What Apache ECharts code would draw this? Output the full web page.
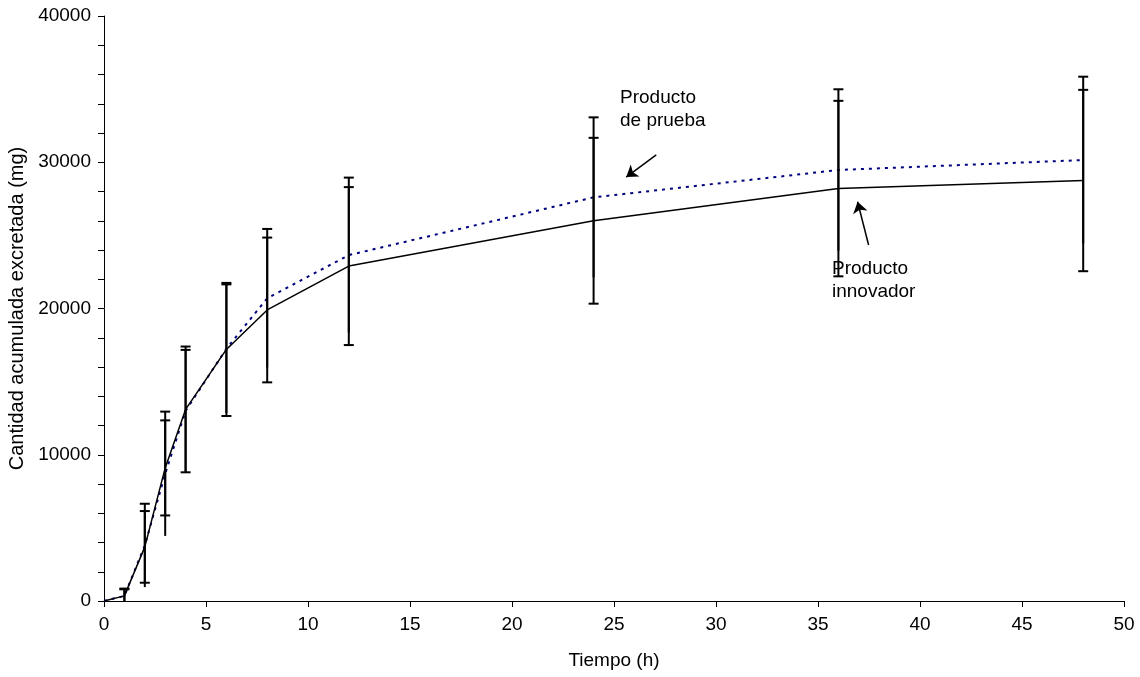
<!DOCTYPE html>
<html>
<head>
<meta charset="utf-8">
<script src="https://cdn.jsdelivr.net/npm/echarts@6/dist/echarts.min.js"></script>
<style>
  html, body { margin: 0; padding: 0; background: #fff; }
  #main { width: 1140px; height: 677px; }
</style>
</head>
<body>
<div id="main"></div>
<script>
// tiempo de muestreo (h)
const tiempo = [0, 1, 2, 3, 4, 6, 8, 12, 24, 36, 48];
// producto innovador: media y desviación estándar (mg)
const innovador = [0, 350, 3700, 9100, 13100, 17200, 19900, 22900, 26000, 28200, 28750];
const innovadorDE = [0, 450, 2450, 3250, 4300, 4550, 4950, 5400, 5670, 6000, 6200];
// producto de prueba
const prueba = [0, 350, 3800, 8700, 13000, 17250, 20700, 23650, 27600, 29470, 30150];
const pruebaDE = [0, 500, 2850, 4250, 4170, 4400, 4740, 5300, 5470, 5520, 5700];

const fuente = 'Liberation Sans, Arial, sans-serif';

function toLine(ys) {
    return tiempo.map((t, i) => [t, ys[i]]);
}
function toBars(ys, de) {
    let d = [];
    for (let i = 0; i < tiempo.length; i++) {
        if (de[i] > 0) d.push([tiempo[i], Math.max(0, ys[i] - de[i]), ys[i] + de[i]]);
    }
    return d;
}

// barras de error; capBottom indica si se dibuja el tope inferior
function errorBars(capBottom) {
    return function (params, api) {
        const x = api.value(0);
        const lo = api.coord([x, api.value(1)]);
        const hi = api.coord([x, api.value(2)]);
        const w = 5;
        const style = { stroke: '#000', lineWidth: 2 };
        const children = [
            { type: 'line', shape: { x1: hi[0], y1: hi[1], x2: lo[0], y2: lo[1] }, style: style },
            { type: 'line', shape: { x1: hi[0] - w, y1: hi[1], x2: hi[0] + w, y2: hi[1] }, style: style }
        ];
        if (capBottom && api.value(1) > 0) {
            children.push({ type: 'line', shape: { x1: lo[0] - w, y1: lo[1], x2: lo[0] + w, y2: lo[1] }, style: style });
        }
        return { type: 'group', children: children };
    };
}

const chart = echarts.init(document.getElementById('main'));
chart.setOption({
    animation: false,
    backgroundColor: '#fff',
    textStyle: { fontFamily: fuente },
    grid: { left: 104, right: 16, top: 16, bottom: 76, containLabel: false, outerBoundsMode: 'none' },
    xAxis: {
        type: 'value',
        min: 0,
        max: 50,
        interval: 5,
        name: 'Tiempo (h)',
        nameLocation: 'middle',
        nameGap: 50,
        nameTextStyle: { color: '#000', fontSize: 19, fontFamily: fuente },
        axisLine: { lineStyle: { color: '#000', width: 1 } },
        axisTick: { show: true, length: 6, lineStyle: { color: '#000' } },
        axisLabel: { color: '#000', fontSize: 19, margin: 14, fontFamily: fuente },
        splitLine: { show: false }
    },
    yAxis: {
        type: 'value',
        min: 0,
        max: 40000,
        interval: 2000,
        name: 'Cantidad acumulada excretada (mg)',
        nameLocation: 'middle',
        nameGap: 76,
        nameTextStyle: { color: '#000', fontSize: 20, fontFamily: fuente },
        axisLine: { show: true, lineStyle: { color: '#000', width: 1 } },
        axisTick: { show: true, length: 6, lineStyle: { color: '#000' } },
        axisLabel: {
            color: '#000', fontSize: 19, margin: 13, fontFamily: fuente,
            formatter: v => (v % 10000 === 0 ? String(v) : '')
        },
        splitLine: { show: false }
    },
    series: [
        {
            name: 'Producto de prueba',
            type: 'line',
            data: toLine(prueba),
            symbol: 'none',
            z: 2,
            lineStyle: { color: '#000080', width: 2, type: [3, 5] }
        },
        {
            name: 'Producto innovador',
            type: 'line',
            data: toLine(innovador),
            symbol: 'none',
            z: 3,
            lineStyle: { color: '#000', width: 1.5 },
            markLine: {
                silent: true,
                symbol: ['none', 'arrow'],
                symbolSize: 11,
                label: { show: false },
                lineStyle: { color: '#000', width: 1.5, type: 'solid', opacity: 1 },
                data: [
                    [{ coord: [27.07, 30500] }, { coord: [25.6, 28990] }],
                    [{ coord: [37.48, 24340] }, { coord: [36.94, 27300] }]
                ]
            }
        },
        {
            type: 'custom',
            renderItem: errorBars(false),
            data: toBars(prueba, pruebaDE),
            z: 4
        },
        {
            type: 'custom',
            renderItem: errorBars(true),
            data: toBars(innovador, innovadorDE),
            z: 5
        }
    ],
    graphic: [
        {
            type: 'text', left: 620, top: 86,
            style: { text: 'Producto\nde prueba', font: '19px ' + fuente, fill: '#000', lineHeight: 23 }
        },
        {
            type: 'text', left: 832, top: 257,
            style: { text: 'Producto\ninnovador', font: '19px ' + fuente, fill: '#000', lineHeight: 23 }
        }
    ]
});
</script>
</body>
</html>
